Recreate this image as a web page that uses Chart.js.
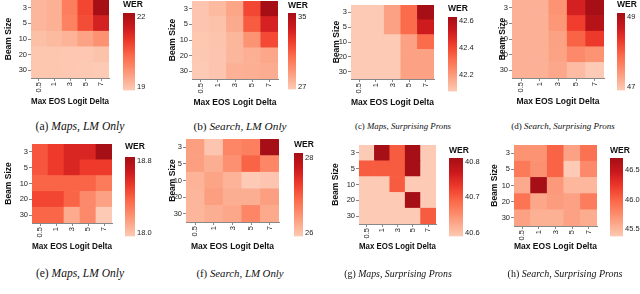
<!DOCTYPE html>
<html>
<head>
<meta charset="utf-8">
<script src="https://cdn.jsdelivr.net/npm/chart.js@4.4.1/dist/chart.umd.min.js"></script>
<style>
  body { margin: 0; background: #fff; width: 640px; height: 294px; overflow: hidden; position: relative; }
  canvas { position: absolute; }
  .cap { position: absolute; font-family: "Liberation Serif", serif; color: #111; white-space: nowrap; transform: translate(-50%, -50%); }
</style>
</head>
<body>
<script>
// axes
const deltas = ['0.5', '1', '3', '5', '7']
const beams = ['3', '5', '10', '20', '30']

// WER per cell, rows = beam size, cols = max EOS logit delta
const mapsLmOnly = [
  [19.15, 19.25, 20.0, 20.8, 22.17],
  [19.15, 19.25, 19.95, 20.7, 21.4],
  [19.0, 19.1, 19.2, 19.45, 19.7],
  [18.9, 18.9, 18.87, 18.87, 18.95],
  [18.9, 18.9, 18.88, 18.85, 18.83],
]
const searchLmOnly = [
  [26.85, 27.3, 28.2, 31.8, 35.46],
  [26.85, 27.0, 28.0, 31.1, 33.4],
  [26.8, 26.9, 27.5, 28.9, 31.7],
  [26.75, 26.85, 27.5, 27.8, 28.1],
  [26.66, 26.85, 27.7, 27.8, 27.9],
]
const mapsSurprising = [
  [42.08, 42.08, 42.185, 42.32, 42.63],
  [42.08, 42.08, 42.185, 42.32, 42.52],
  [42.08, 42.08, 42.08, 42.185, 42.32],
  [42.08, 42.08, 42.08, 42.185, 42.185],
  [42.08, 42.08, 42.08, 42.185, 42.185],
]
const searchSurprising = [
  [47.15, 47.15, 47.45, 48.6, 49.11],
  [47.15, 47.15, 47.42, 48.27, 48.93],
  [47.15, 47.15, 47.31, 47.93, 48.31],
  [47.15, 47.15, 47.3, 47.55, 47.45],
  [47.15, 47.15, 47.25, 47.05, 46.89],
]
const mapsLmOnly2 = [
  [18.42, 18.52, 18.61, 18.61, 18.84],
  [18.42, 18.52, 18.61, 18.52, 18.52],
  [18.37, 18.37, 18.37, 18.37, 18.28],
  [18.48, 18.48, 18.37, 18.22, 18.13],
  [18.36, 18.36, 18.09, 18.22, 17.96],
]
const searchLmOnly2 = [
  [26.35, 25.95, 26.6, 26.66, 28.13],
  [26.35, 26.2, 26.5, 26.95, 26.6],
  [26.15, 26.3, 26.15, 25.9, 25.95],
  [26.12, 26.35, 26.2, 26.2, 26.35],
  [26.12, 26.2, 26.27, 26.6, 26.25],
]
const mapsSurprising2 = [
  [40.59, 40.81, 40.7, 40.81, 40.59],
  [40.7, 40.7, 40.7, 40.81, 40.59],
  [40.59, 40.59, 40.7, 40.59, 40.59],
  [40.59, 40.59, 40.59, 40.81, 40.59],
  [40.59, 40.59, 40.59, 40.59, 40.7],
]
const searchSurprising2 = [
  [45.71, 45.71, 46.0, 45.63, 45.92],
  [45.87, 45.73, 46.0, 45.38, 45.78],
  [45.58, 46.7, 45.68, 45.5, 45.5],
  [45.9, 45.6, 45.66, 45.63, 45.85],
  [45.63, 45.54, 45.54, 45.63, 45.57],
]

// colour bar tick labels
const ticksA = ['22', '19']
const ticksB = ['35', '27']
const ticksC = ['42.6', '42.4', '42.2']
const ticksD = ['49', '47']
const ticksE = ['18.8', '18.0']
const ticksF = ['28', '26']
const ticksG = ['40.8', '40.7', '40.6']
const ticksH = ['46.5', '46.0', '45.5']

// layout: hm = heatmap area [l,t,r,b], cb = colour bar [l,t,r,b]
const panels = [
  { vals: mapsLmOnly, ticks: ticksA, tag: '(a)', name: 'Maps, LM Only', hm: [31, 0, 109, 78], yTitleX: 9, xTitleY: 102, cb: [123, 13, 135, 91], werY: 5, cap: [80, 126], capSize: 11.6 },
  { vals: searchLmOnly, ticks: ticksB, tag: '(b)', name: 'Search, LM Only', hm: [192, 1, 278, 79], yTitleX: 173, xTitleY: 103, cb: [288, 13, 296, 90], werY: 6, cap: [240, 126], capSize: 11.3 },
  { vals: mapsSurprising, ticks: ticksC, tag: '(c)', name: 'Maps, Surprising Prons', hm: [351, 5, 434, 79], yTitleX: 337, xTitleY: 103, cb: [448, 17, 457, 92], werY: 9, cap: [403, 126], capSize: 8.8 },
  { vals: searchSurprising, ticks: ticksD, tag: '(d)', name: 'Search, Surprising Prons', hm: [512, 0, 604, 78], yTitleX: 503, xTitleY: 102, cb: [617, 13, 625, 91], werY: 5, cap: [563, 126], capSize: 9 },
  { vals: mapsLmOnly2, ticks: ticksE, tag: '(e)', name: 'Maps, LM Only', hm: [32, 144, 112, 223], yTitleX: 9, xTitleY: 247, cb: [125, 157, 135, 237], werY: 147, cap: [80, 273], capSize: 11.5 },
  { vals: searchLmOnly2, ticks: ticksF, tag: '(f)', name: 'Search, LM Only', hm: [186, 139, 279, 222], yTitleX: 173, xTitleY: 247, cb: [294, 153, 303, 237], werY: 145, cap: [240, 273], capSize: 10.8 },
  { vals: mapsSurprising2, ticks: ticksG, tag: '(g)', name: 'Maps, Surprising Prons', hm: [359, 145, 436, 224], yTitleX: 336, xTitleY: 247, cb: [449, 158, 463, 237], werY: 151, cap: [398, 273], capSize: 9.8 },
  { vals: searchSurprising2, ticks: ticksH, tag: '(h)', name: 'Search, Surprising Prons', hm: [514, 145, 597, 226], yTitleX: 495, xTitleY: 247, cb: [610, 158, 623, 237], werY: 151, cap: [565, 273], capSize: 10 },
]

// colorbrewer Reds, only the 0.2 .. 0.875 part is used
const reds = ['#fff5f0', '#fee0d2', '#fcbba1', '#fc9272', '#fb6a4a', '#ef3b2c', '#cb181d', '#a50f15', '#67000d']
const SANS = '"Liberation Sans", Arial, sans-serif'
const tickFont = { family: SANS, size: 7.5 }
const titleFont = { family: SANS, size: 8.5, weight: 'bold' }
const TITLE_LH = 8.5 * 1.2
const PAD_TOP = 6
const PAD_RIGHT = 4
const CB_AXIS_W = 26

function hex(c) {
  return [1, 3, 5].map(i => parseInt(c.slice(i, i + 2), 16))
}

function colorAt(t) {
  t = Math.max(0, Math.min(1, t))
  const p = (0.2 + 0.675 * t) * (reds.length - 1)
  const i = Math.min(Math.floor(p), reds.length - 2)
  const f = p - i
  const a = hex(reds[i]), b = hex(reds[i + 1])
  const c = a.map((v, k) => Math.round(v + (b[k] - v) * f))
  return 'rgb(' + c.join(',') + ')'
}

function addCanvas(left, top, w, h) {
  const c = document.createElement('canvas')
  c.width = Math.round(w)
  c.height = Math.round(h)
  c.style.left = Math.round(left) + 'px'
  c.style.top = Math.round(top) + 'px'
  c.style.width = Math.round(w) + 'px'
  c.style.height = Math.round(h) + 'px'
  document.body.appendChild(c)
  return c
}

function heatmap(p, lo, hi) {
  const [L, T, R, B] = p.hm
  const left = Math.round(p.yTitleX - (TITLE_LH / 2 + 4))
  const top = T - PAD_TOP
  const yW = L - left
  const xH = Math.round(p.xTitleY - B + TITLE_LH / 2 + 2)
  const canvas = addCanvas(left, top, R - left + PAD_RIGHT, PAD_TOP + (B - T) + xH)

  // first dataset sits at the bottom of the stack
  const datasets = beams.map((b, r) => ({
    label: b,
    data: deltas.map(() => 1),
    backgroundColor: p.vals[r].map(v => colorAt((v - lo) / (hi - lo))),
    borderWidth: 0,
    barPercentage: 1,
    categoryPercentage: 1,
  })).reverse()

  new Chart(canvas, {
    type: 'bar',
    data: { labels: deltas, datasets },
    options: {
      responsive: false,
      animation: false,
      layout: { padding: { top: PAD_TOP, right: PAD_RIGHT, left: 0, bottom: 0 } },
      plugins: { legend: { display: false }, tooltip: { enabled: false } },
      scales: {
        x: {
          stacked: true,
          grid: { offset: false, drawOnChartArea: false, tickLength: 3, color: '#888' },
          border: { color: '#888' },
          ticks: { minRotation: 90, maxRotation: 90, padding: 1, font: tickFont, color: '#222' },
          title: { display: true, text: 'Max EOS Logit Delta', font: titleFont, color: '#111', padding: { top: 0, bottom: 2 } },
          afterFit: s => { s.height = xH },
        },
        y: {
          stacked: true,
          min: 0,
          max: beams.length,
          afterBuildTicks: s => { s.ticks = beams.map((b, i) => ({ value: i + 0.5 })) },
          grid: { drawOnChartArea: false, tickLength: 3, color: '#888' },
          border: { color: '#888' },
          ticks: { padding: 1, font: tickFont, color: '#222', callback: (v, i) => beams[beams.length - 1 - i] },
          title: { display: true, text: 'Beam Size', font: titleFont, color: '#111', padding: { top: 4, bottom: 0 } },
          afterFit: s => { s.width = yW },
        },
      },
    },
  })
}

function colorbar(p, lo, hi) {
  const [L, T, R, B] = p.cb
  const top = Math.round(p.werY - TITLE_LH / 2)
  const gap = T - top - TITLE_LH
  const canvas = addCanvas(L, top, R - L + CB_AXIS_W, B - top + 6)

  new Chart(canvas, {
    type: 'bar',
    data: {
      labels: ['WER'],
      datasets: [{
        data: [[lo, hi]],
        barPercentage: 1,
        categoryPercentage: 1,
        borderWidth: 0,
        borderSkipped: false,
        backgroundColor: ctx => {
          const a = ctx.chart.chartArea
          if (!a) return colorAt(0.5)
          const g = ctx.chart.ctx.createLinearGradient(0, a.bottom, 0, a.top)
          for (let i = 0; i <= 20; i++) g.addColorStop(i / 20, colorAt(i / 20))
          return g
        },
      }],
    },
    options: {
      responsive: false,
      animation: false,
      layout: { padding: { top: 0, right: 0, left: 0, bottom: 6 } },
      plugins: {
        legend: { display: false },
        tooltip: { enabled: false },
        title: { display: true, text: 'WER', align: 'start', font: titleFont, color: '#111', padding: { top: 0, bottom: gap } },
      },
      scales: {
        x: { display: false },
        y: {
          position: 'right',
          min: lo,
          max: hi,
          grid: { display: false, drawTicks: false },
          border: { display: false },
          afterBuildTicks: s => { s.ticks = p.ticks.map(t => ({ value: parseFloat(t) })).sort((a, b) => a.value - b.value) },
          ticks: { padding: 2, font: tickFont, color: '#222', callback: v => p.ticks.find(t => parseFloat(t) === v) },
          afterFit: s => { s.width = CB_AXIS_W },
        },
      },
    },
  })
}

function caption(p) {
  const d = document.createElement('div')
  d.className = 'cap'
  d.style.left = p.cap[0] + 'px'
  d.style.top = p.cap[1] + 'px'
  d.style.fontSize = p.capSize + 'px'
  d.innerHTML = p.tag + ' <i>' + p.name + '</i>'
  document.body.appendChild(d)
}

panels.forEach(p => {
  const all = p.vals.flat()
  const lo = Math.min(...all)
  const hi = Math.max(...all)
  heatmap(p, lo, hi)
  colorbar(p, lo, hi)
  caption(p)
})
</script>
</body>
</html>
